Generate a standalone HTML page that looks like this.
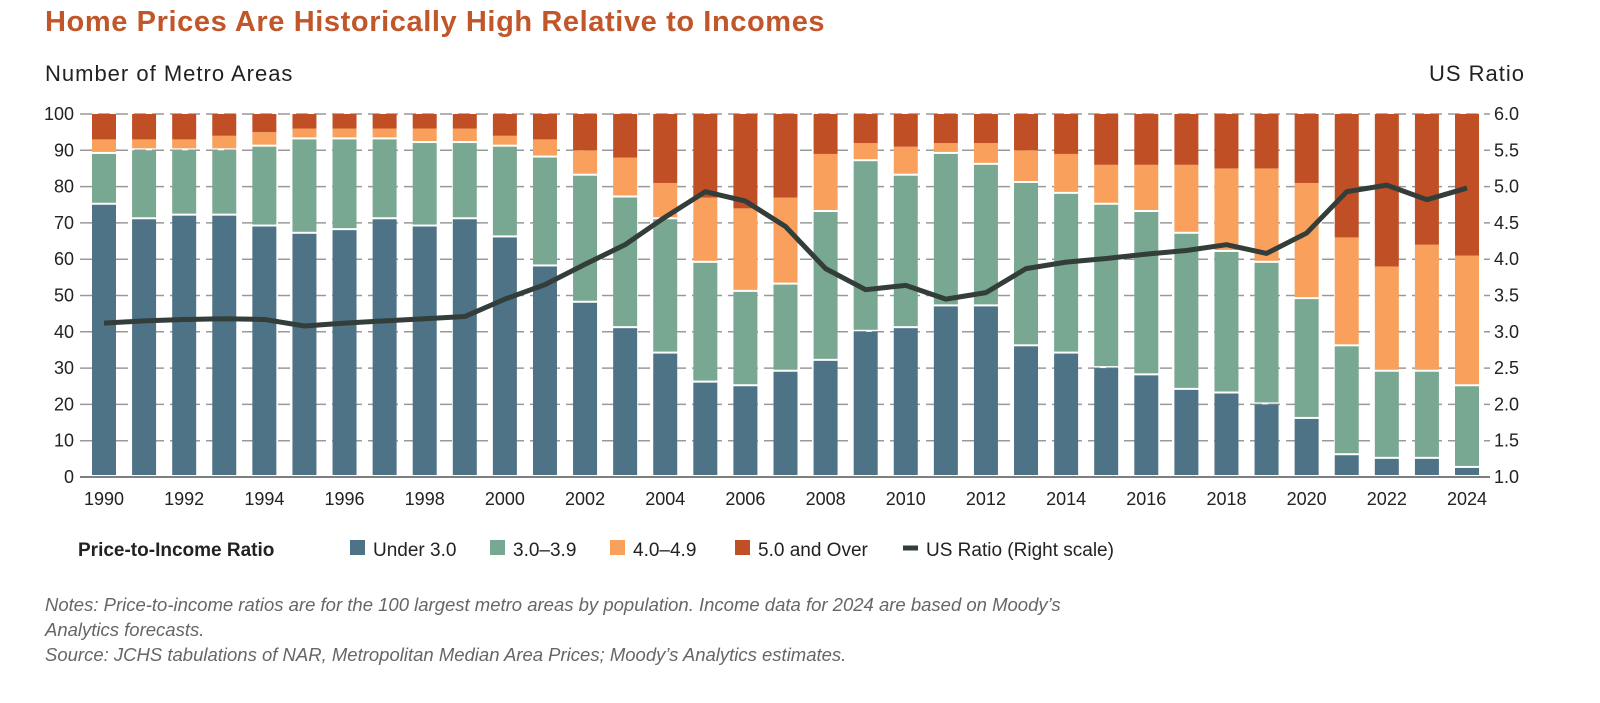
<!DOCTYPE html>
<html><head><meta charset="utf-8"><style>
body{margin:0;width:1600px;height:703px;background:#fff;font-family:"Liberation Sans",sans-serif;overflow:hidden;position:relative}
.t{position:absolute;white-space:nowrap}
</style></head><body>
<div class="t" style="left:45px;top:6px;font-size:29px;font-weight:bold;color:#c0562a;letter-spacing:0.6px">Home Prices Are Historically High Relative to Incomes</div>
<div class="t" style="left:45px;top:61px;font-size:22px;color:#222;letter-spacing:1px">Number of Metro Areas</div>
<div class="t" style="right:75px;top:61px;font-size:22px;color:#222;letter-spacing:1px">US Ratio</div>
<svg id="chart" width="1600" height="703" style="position:absolute;left:0;top:0"></svg>
<div class="t" style="left:45px;top:592px;font-size:18.5px;font-style:italic;color:#666;line-height:25px">Notes: Price-to-income ratios are for the 100 largest metro areas by population. Income data for 2024 are based on Moody’s<br>Analytics forecasts.<br>Source: JCHS tabulations of NAR, Metropolitan Median Area Prices; Moody’s Analytics estimates.</div>
<script>
const years=[1990,1991,1992,1993,1994,1995,1996,1997,1998,1999,2000,2001,2002,2003,2004,2005,2006,2007,2008,2009,2010,2011,2012,2013,2014,2015,2016,2017,2018,2019,2020,2021,2022,2023,2024];
const under3=[75,71,72,72,69,67,68,71,69,71,66,58,48,41,34,26,25,29,32,40,41,47,47,36,34,30,28,24,23,20,16,6,5,5,2.5];
const r3to39=[14,19,18,18,22,26,25,22,23,21,25,30,35,36,37,33,26,24,41,47,42,42,39,45,44,45,45,43,39,39,33,30,24,24,22.5];
const r4to49=[4,3,3,4,4,3,3,3,4,4,3,5,7,11,10,18,23,24,16,5,8,3,6,9,11,11,13,19,23,26,32,30,29,35,36];
const r5plus=[7,7,7,6,5,4,4,4,4,4,6,7,10,12,19,23,26,23,11,8,9,8,8,10,11,14,14,14,15,15,19,34,42,36,39];
const usRatio=[3.12,3.15,3.17,3.18,3.17,3.08,3.12,3.15,3.18,3.21,3.45,3.65,3.93,4.2,4.58,4.93,4.8,4.45,3.87,3.58,3.64,3.45,3.54,3.87,3.96,4.01,4.07,4.12,4.2,4.08,4.36,4.93,5.02,4.82,4.98];
const leftTicks=[0,10,20,30,40,50,60,70,80,90,100];
const rightTicks=["1.0","1.5","2.0","2.5","3.0","3.5","4.0","4.5","5.0","5.5","6.0"];
const xLabels=[1990,1992,1994,1996,1998,2000,2002,2004,2006,2008,2010,2012,2014,2016,2018,2020,2022,2024];

const svg=document.getElementById('chart');const NS='http://www.w3.org/2000/svg';
const plotTop=114,plotBot=477,x0=104,x1=1467,bw=24;
const y=v=>plotBot-(v/100)*(plotBot-plotTop);
const yr=v=>plotBot-((v-1)/5)*(plotBot-plotTop);
const x=yy=>x0+(yy-years[0])*(x1-x0)/(years[years.length-1]-years[0]);
function mk(tag,attrs,parent){const e=document.createElementNS(NS,tag);for(const k in attrs)e.setAttribute(k,attrs[k]);(parent||svg).appendChild(e);return e;}
leftTicks.forEach((v,i)=>{
 const g=mk('line',{x1:80,x2:1490,y1:y(v),y2:y(v),stroke:v===0?'#555':'#999','stroke-width':1.5,'stroke-dasharray':v===0?'':'12 6'});
 
 
 const t=mk('text',{x:74,y:y(v)+6,'text-anchor':'end','font-size':18,fill:'#222'});t.textContent=v;
 
 
 const t2=mk('text',{x:1494,y:y(v)+6,'font-size':18,fill:'#222'});t2.textContent=rightTicks[i];
 
 
});
xLabels.forEach(v=>{const t=mk('text',{x:x(v),y:505,'text-anchor':'middle','font-size':18,fill:'#222'});t.textContent=v;
 
 });
const series=[[under3,'#4f7386','bar-under-3'],[r3to39,'#79a892','bar-3-to-3.9'],[r4to49,'#f9a05c','bar-4-to-4.9'],[r5plus,'#c04f26','bar-5-plus']];
years.forEach((yy,i)=>{let c=0;series.forEach(([arr,col,nm])=>{const v=arr[i];const a=y(c),b=y(Math.min(100,c+v));
 const r=mk('rect',{x:x(yy)-bw/2,y:b,width:bw,height:Math.max(0,a-b-(c+v>=100?0:2)),fill:col});
 
 
 c+=v;});});
const p=mk('polyline',{points:years.map((yy,i)=>x(yy)+','+yr(usRatio[i])).join(' '),fill:'none',stroke:'#333d3a','stroke-width':5,'stroke-linejoin':'round'});


const lg=mk('g',{});


const lt=mk('text',{x:78,y:556,'font-size':19,'font-weight':'bold',fill:'#222'},lg);lt.textContent='Price-to-Income Ratio';
const items=[[350,'#4f7386','Under 3.0'],[490,'#79a892','3.0–3.9'],[610,'#f9a05c','4.0–4.9'],[735,'#c04f26','5.0 and Over']];
items.forEach(([lx,col,txt])=>{const r=mk('rect',{x:lx,y:540,width:15,height:15,fill:col},lg);
 
 
 const t=mk('text',{x:lx+23,y:556,'font-size':19,fill:'#222'},lg);t.textContent=txt;
 
 });
const ll=mk('line',{x1:903,x2:918,y1:548,y2:548,stroke:'#333d3a','stroke-width':5},lg);


const lt2=mk('text',{x:926,y:556,'font-size':19,fill:'#222'},lg);lt2.textContent='US Ratio (Right scale)';


</script>
</body></html>
